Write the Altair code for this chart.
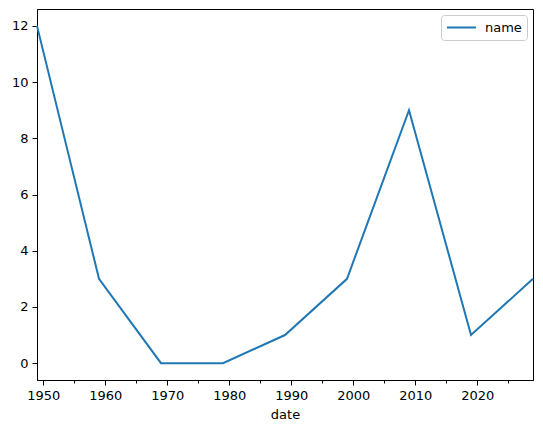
import altair as alt
import pandas as pd

years = [1949, 1959, 1969, 1979, 1989, 1999, 2009, 2019, 2029]
values = [12, 3, 0, 0, 1, 3, 9, 1, 3]
series = ["name"] * len(years)
x_ticks = [1950, 1955, 1960, 1965, 1970, 1975, 1980, 1985, 1990, 1995,
           2000, 2005, 2010, 2015, 2020, 2025]
y_ticks = [0, 2, 4, 6, 8, 10, 12]

df = pd.DataFrame({"date": years, "value": values, "series": series})

font = "DejaVu Sans"

chart = alt.Chart(df).mark_line(strokeWidth=2, color="#1f77b4").encode(
    x=alt.X(
        "date:Q",
        scale=alt.Scale(domain=[1949, 2029], nice=False, zero=False),
        axis=alt.Axis(
            values=x_ticks,
            labelExpr="datum.value % 10 === 0 ? datum.label : ''",
            tickSize={"condition": {"test": "datum.value % 10 === 5", "value": 3}, "value": 5},
            title="date",
            format="d",
            grid=False,
        ),
    ),
    y=alt.Y(
        "value:Q",
        scale=alt.Scale(domain=[-0.6, 12.6], nice=False, zero=False),
        axis=alt.Axis(values=y_ticks, title=None, grid=False, tickSize=5),
    ),
    color=alt.Color(
        "series:N",
        scale=alt.Scale(range=["#1f77b4"]),
        legend=alt.Legend(
            title=None,
            orient="top-right",
            symbolType="stroke",
            symbolStrokeWidth=2,
            symbolSize=841,
            clipHeight=15,
            strokeColor="#cccccc",
            cornerRadius=3,
            padding=5,
            offset=6,
            labelOffset=8,
            labelFontSize=13,
            labelFont=font,
            labelColor="black",
            fillColor="white",
        ),
    ),
).properties(
    width=496,
    height=371,
    autosize=alt.AutoSizeParams(type="none"),
    padding={"left": 29, "top": 1, "right": 2, "bottom": 44},
).configure_view(
    stroke="black", strokeWidth=1
).configure_axis(
    domainColor="black",
    tickColor="black",
    labelColor="black",
    titleColor="black",
    labelFont=font,
    titleFont=font,
    labelFontSize=13,
    titleFontSize=13,
    titleFontWeight="normal",
    labelPadding=4,
    titlePadding=6,
)

chart.save("out.html", embed_options={"renderer": "svg", "actions": False})
